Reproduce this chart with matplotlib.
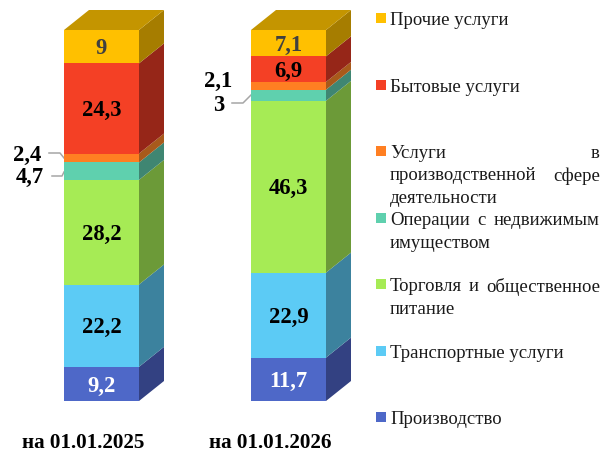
import matplotlib
matplotlib.use("Agg")
import matplotlib.pyplot as plt
from matplotlib.patches import Polygon, Rectangle
from matplotlib.transforms import Affine2D

plt.rcParams["font.family"] = ["Liberation Serif", "DejaVu Serif"]

W, H = 616, 453

# ── Data ──────────────────────────────────────────────────────────────────────
dates = ["на 01.01.2025", "на 01.01.2026"]
sectors = ["Производство", "Транспортные услуги", "Торговля и общественное питание",
           "Операции с недвижимым имуществом", "Услуги в производственной сфере деятельности",
           "Бытовые услуги", "Прочие услуги"]
values_2025 = [9.2, 22.2, 28.2, 4.7, 2.4, 24.3, 9]
values_2026 = [11.7, 22.9, 46.3, 3, 2.1, 6.9, 7.1]

# ── Style ─────────────────────────────────────────────────────────────────────
front = ["#4E68C8", "#5CCBF5", "#A6EB55", "#5FD0AE", "#FF7F22", "#F44025", "#FFC000"]
side = ["#334182", "#3C829E", "#6C9A38", "#3F8672", "#A85A1B", "#962618", "#A67D00"]
top_color = "#C49500"
text_colors = ["white", "black", "black", "black", "black", "black", "#404040"]
legend_lines = {
    "Прочие услуги": ["Прочие услуги"],
    "Бытовые услуги": ["Бытовые услуги"],
    "Услуги в производственной сфере деятельности":
        ["Услуги в", "производственной сфере", "деятельности"],
    "Операции с недвижимым имуществом": ["Операции с недвижимым", "имуществом"],
    "Торговля и общественное питание": ["Торговля и общественное", "питание"],
    "Транспортные услуги": ["Транспортные услуги"],
    "Производство": ["Производство"],
}
legend_y = {"Прочие услуги": 18, "Бытовые услуги": 85, "Услуги в производственной сфере деятельности": 151,
            "Операции с недвижимым имуществом": 218, "Торговля и общественное питание": 284,
            "Транспортные услуги": 351, "Производство": 417}

fig = plt.figure(figsize=(W / 100, H / 100), dpi=100)
ax = fig.add_axes([0, 0, 1, 1])
ax.set_xlim(-101.5 / 187, (W - 101.5) / 187)
ax.set_ylim((401 - H) / 3.71, 401 / 3.71)
ax.axis("off")

px = Affine2D().scale(1, -1).translate(0, H)  # reference image pixels
bar_w = 75 / 187
dx, dy = 25 / 187, 20 / 3.71

for i, vals in enumerate([values_2025, values_2026]):
    bottom = 0
    x0, x1 = i - bar_w / 2, i + bar_w / 2
    for j, v in enumerate(vals):
        ax.bar(i, v, bar_w, bottom=bottom, color=front[j], linewidth=0, zorder=3)
        ax.add_patch(Polygon([(x1, bottom), (x1 + dx, bottom + dy), (x1 + dx, bottom + v + dy),
                              (x1, bottom + v)], closed=True, fc=side[j], lw=0, zorder=2))
        if v >= 5:
            ax.text(i, bottom + v / 2 - 0.55, f"{v:g}".replace(".", ","), ha="center", va="center",
                    fontsize=16.3, fontweight="bold", color=text_colors[j], zorder=4)
        bottom += v
    ax.add_patch(Polygon([(x0, bottom), (x0 + dx, bottom + dy), (x1 + dx, bottom + dy), (x1, bottom)],
                         closed=True, fc=top_color, lw=0, zorder=2))
    # date labels sit left of the bars in the original
    ax.text(i - 0.099, -11.3, dates[i], ha="center", va="center", fontsize=15.2, fontweight="bold")

# Small segments: labels sit outside the bars with grey leader lines
outside = [("2,4", 27, 155.5), ("4,7", 30, 177.5), ("2,1", 218, 81.5), ("3", 219, 105.5)]
for label, x, y in outside:
    ax.text(x, y, label, transform=px, ha="center", va="center", fontsize=16.3, fontweight="bold")
leaders = [([49, 60, 64], [153, 153, 158]), ([52, 62, 64], [176, 176, 172]), ([232, 243, 251], [103, 103, 95])]
for xs, ys in leaders:
    ax.plot(xs, ys, color="#A6A6A6", lw=1.1, transform=px, zorder=1)

# Hand-built legend: the justified text cannot be done with ax.legend
fig.canvas.draw()
renderer = fig.canvas.get_renderer()
LEFT, RIGHT, LINE = 390, 600, 22.5
for s, name in enumerate(sectors):
    y = legend_y[name]
    ax.add_patch(Rectangle((376, y - 5), 10, 10, fc=front[s], lw=0, transform=px))
    lines = legend_lines[name]
    for k, line in enumerate(lines):
        if k == len(lines) - 1:
            ax.text(LEFT, y + k * LINE + 0.5, line, transform=px, ha="left", va="center_baseline",
                    fontsize=13.5, color="#1a1a1a")
            continue
        words = line.split()
        artists = [ax.text(LEFT, y + k * LINE + 0.5, w, transform=px, ha="left", va="center_baseline",
                           fontsize=13.5, color="#1a1a1a") for w in words]
        widths = [a.get_window_extent(renderer).width for a in artists]
        gap = (RIGHT - LEFT - sum(widths)) / (len(words) - 1)
        pos = LEFT
        for a, w in zip(artists, widths):
            a.set_x(pos)
            pos += w + gap

fig.savefig("out.png", dpi=100)
